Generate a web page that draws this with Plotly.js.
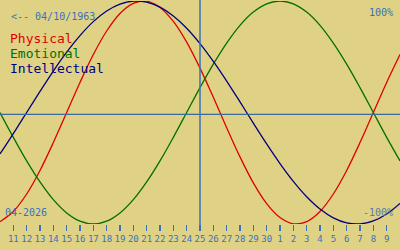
<!DOCTYPE html>
<html>
<head>
<meta charset="utf-8">
<script src="https://cdn.plot.ly/plotly-3.0.1.min.js"></script>
<style>
html,body{margin:0;padding:0;background:#E0D285;}
#chart{width:400px;height:250px;}
</style>
</head>
<body>
<div id="chart"></div>
<script>
// Day index 0 = 10 April 2026 ... 30 = 10 May 2026
const dayIndex = [0,1,2,3,4,5,6,7,8,9,10,11,12,13,14,15,16,17,18,19,20,21,22,23,24,25,26,27,28,29,30];
const dayLabels = ["10","11","12","13","14","15","16","17","18","19","20","21","22","23","24","25","26","27","28","29","30","1","2","3","4","5","6","7","8","9","10"];

const physical = [-0.979,-0.888,-0.731,-0.520,-0.270,0.000,0.270,0.520,0.731,0.888,0.979,0.998,0.942,0.817,0.631,0.398,0.136,-0.136,-0.398,-0.631,-0.817,-0.942,-0.998,-0.979,-0.888,-0.731,-0.520,-0.270,0.000,0.270,0.520];
const emotional = [0.000,-0.223,-0.434,-0.623,-0.782,-0.901,-0.975,-1.000,-0.975,-0.901,-0.782,-0.623,-0.434,-0.223,0.000,0.223,0.434,0.623,0.782,0.901,0.975,1.000,0.975,0.901,0.782,0.623,0.434,0.223,0.000,-0.223,-0.434];
const intellectual = [-0.372,-0.189,0.000,0.189,0.372,0.541,0.690,0.815,0.910,0.972,0.999,0.990,0.945,0.866,0.756,0.618,0.458,0.282,0.095,-0.095,-0.282,-0.458,-0.618,-0.756,-0.866,-0.945,-0.990,-0.999,-0.972,-0.910,-0.815];

const seriesNames = ["Physical","Emotional","Intellectual"];
const seriesColors = ["#E00000","#007000","#000080"];
const todayIndex = 15;
const birthText = "<-- 04/10/1963";
const monthText = "04-2026";

const tickIdx = dayIndex.slice(1, 30);
const tickTxt = dayLabels.slice(1, 30);

const blue = "#3A70C0";
const mono = "DejaVu Sans Mono, monospace";

const traces = [physical, emotional, intellectual].map((vals, i) => ({
  x: dayIndex, y: vals, type: "scatter", mode: "lines",
  line: {color: seriesColors[i], width: 1.3, shape: "spline", smoothing: 1},
  hoverinfo: "skip", showlegend: false
}));

const H = 223; // plot height px
function py(pix){ return (224 - pix) / H; }

const annotations = [
  {text: birthText, x: 10/400, y: py(17), xanchor: "left", yanchor: "middle", font: {family: mono, size: 10, color: blue}},
  {text: seriesNames[0], x: 9/400, y: py(38), xanchor: "left", yanchor: "middle", font: {family: mono, size: 13, color: seriesColors[0]}},
  {text: seriesNames[1], x: 9/400, y: py(53), xanchor: "left", yanchor: "middle", font: {family: mono, size: 13, color: seriesColors[1]}},
  {text: seriesNames[2], x: 9/400, y: py(68), xanchor: "left", yanchor: "middle", font: {family: mono, size: 13, color: seriesColors[2]}},
  {text: "100%", x: 394/400, y: py(12), xanchor: "right", yanchor: "middle", font: {family: mono, size: 10, color: blue}},
  {text: "-100%", x: 394/400, y: py(212.5), xanchor: "right", yanchor: "middle", font: {family: mono, size: 10, color: "#5A78A8"}},
  {text: monthText, x: 4/400, y: py(212), xanchor: "left", yanchor: "middle", font: {family: mono, size: 10, color: blue}}
].map(a => Object.assign({xref: "paper", yref: "paper", showarrow: false, borderpad: 0}, a));

const layout = {
  width: 400, height: 250,
  margin: {l: 0, r: 0, t: 1, b: 26, pad: 0},
  paper_bgcolor: "#E0D285", plot_bgcolor: "#E0D285",
  showlegend: false,
  xaxis: {
    range: [0, 30], showgrid: false, zeroline: false, showline: false,
    tickmode: "array", tickvals: tickIdx, ticktext: tickTxt,
    ticks: "outside", ticklen: 6, tickwidth: 1.5, tickcolor: blue,
    tickfont: {family: mono, size: 9, color: blue}, fixedrange: true
  },
  yaxis: {range: [-1, 1], visible: false, showgrid: false, zeroline: false, fixedrange: true},
  shapes: [
    {type: "line", xref: "paper", yref: "y", x0: 0, x1: 1, y0: -0.017, y1: -0.017, line: {color: "#3C6A9C", width: 1.3}},
    {type: "line", xref: "x", yref: "paper", x0: todayIndex, x1: todayIndex, y0: -6/H, y1: 1 + 1/H, line: {color: blue, width: 1.5}}
  ],
  annotations: annotations
};

Plotly.newPlot("chart", traces, layout, {staticPlot: true, displayModeBar: false});
</script>
</body>
</html>
